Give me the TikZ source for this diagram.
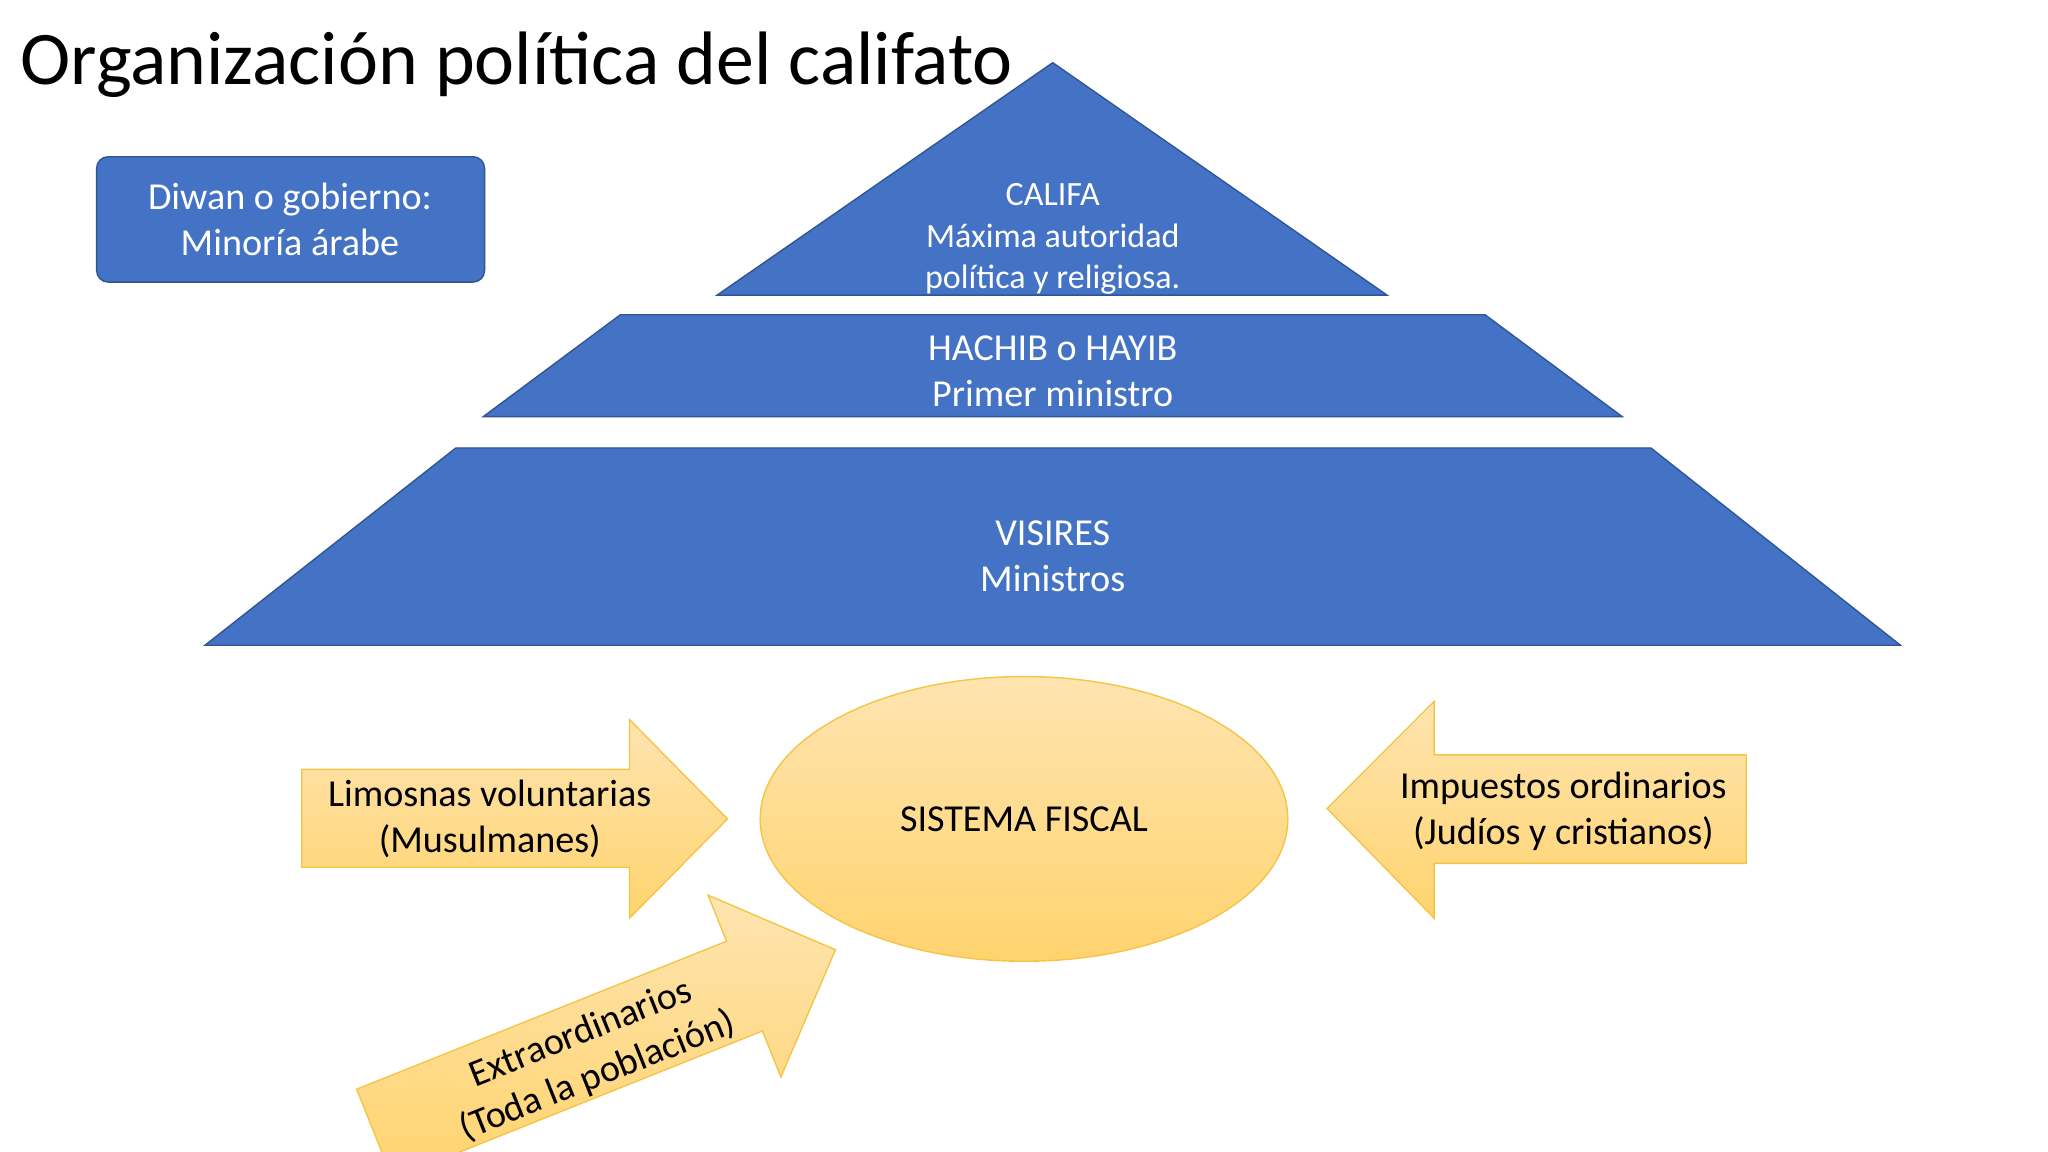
\documentclass[tikz,border=0pt]{standalone}
\usepackage{fontspec}
\setmainfont{Carlito}
\definecolor{bfill}{HTML}{4472C4}
\definecolor{bline}{HTML}{2F5597}
\definecolor{ytop}{HTML}{FEE4B0}
\definecolor{ybot}{HTML}{FFD36E}
\definecolor{yline}{HTML}{F4C545}
\tikzset{
 blue/.style={fill=bfill,draw=bline,line width=0.3pt},
 yel/.style={top color=ytop,bottom color=ybot,draw=yline,line width=0.3pt},
 wtxt/.style={text=white,align=center,font=\fontsize{8.3}{10}\selectfont},
 ktxt/.style={text=black,align=center,font=\fontsize{8.3}{10}\selectfont},
}
\begin{document}
\begin{tikzpicture}[x=0.01cm,y=0.01cm]
\useasboundingbox (0,0) rectangle (1568,882);
\clip (0,0) rectangle (1568,882);
\fill[white] (0,0) rectangle (1568,882);
\node[anchor=base west,inner sep=0,font=\fontsize{16.5}{19}\selectfont] (title) at (15,817) {Organización política del califato};
\draw[blue,rounded corners=2.5pt] (74,666) rectangle (371,762);
\node[wtxt] (diwan) at (222,714) {Diwan o gobierno:\\Minoría árabe};
\draw[blue] (549,656) -- (806,834) -- (1062,656) -- cycle;
\node[wtxt,font=\fontsize{7.4}{9}\selectfont] (califa) at (806,699) {CALIFA\\Máxima autoridad\\política y religiosa.};
\draw[blue] (370,563) -- (475,641) -- (1137,641) -- (1242,563) -- cycle;
\node[wtxt] (hachib) at (806,598) {HACHIB o HAYIB\\Primer ministro};
\draw[blue] (157,388) -- (349,539) -- (1264,539) -- (1455,388) -- cycle;
\node[wtxt] (visires) at (806,456) {VISIRES\\Ministros};
\draw[yel] (784,255) ellipse (202 and 109);
\node[ktxt] (fiscal) at (784,255) {SISTEMA FISCAL};
\draw[yel] (231,218) -- (482,218) -- (482,179) -- (557,255) -- (482,331) -- (482,293) -- (231,293) -- cycle;
\node[ktxt] (lim) at (375,255) {Limosnas voluntarias\\(Musulmanes)};
\draw[yel] (1337,221) -- (1098,221) -- (1098,179) -- (1016,263) -- (1098,345) -- (1098,304) -- (1337,304) -- cycle;
\node[ktxt] (imp) at (1197,261) {Impuestos ordinarios\\(Judíos y cristianos)};
\begin{scope}[shift={(570,127)},rotate=21.8]
\draw[yel] (-305,-37) -- (0,-37) -- (0,-75) -- (75,0) -- (0,75) -- (0,37) -- (-305,37) -- cycle;
\node[ktxt,rotate=21.8] (extra) at (-130,-5) {Extraordinarios\\(Toda la población)};
\end{scope}
\end{tikzpicture}
\end{document}
